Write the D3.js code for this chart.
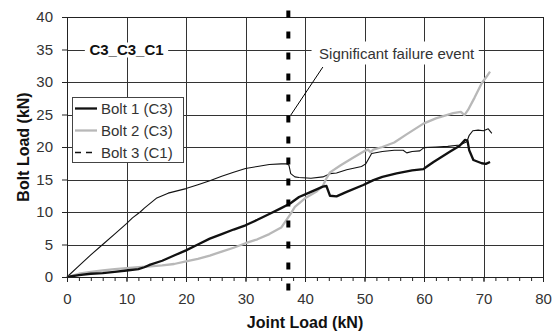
<!DOCTYPE html>
<html>
<head>
<meta charset="utf-8">
<script src="https://cdn.jsdelivr.net/npm/d3@7"></script>
<style>
  html, body { margin: 0; padding: 0; background: #fff; }
  svg { display: block; font-family: "Liberation Sans", Arial, sans-serif; }
</style>
</head>
<body>
<svg id="chart" width="554" height="335"></svg>
<script>
// Joint load (kN) vs bolt load (kN), specimen C3_C3_C1
const bolt1X = [0, 2, 4, 6, 8, 10, 12, 13, 14, 16, 18, 20, 22, 24, 26, 28, 30, 32, 34, 36, 37.5, 39, 41, 43, 43.6, 44.2, 45.3, 47, 49.8, 51.5, 53, 55.4, 58, 59.9, 60.5, 61.6, 63, 64.4, 66, 66.9, 67.3, 67.6, 68.3, 69.7, 70.4, 71.1];
const bolt1Y = [0, 0.3, 0.5, 0.6, 0.8, 1.0, 1.2, 1.5, 1.9, 2.5, 3.3, 4.1, 5.0, 5.9, 6.6, 7.3, 7.95, 8.8, 9.7, 10.6, 11.3, 12.3, 13.1, 13.9, 14.0, 12.5, 12.4, 13.1, 14.15, 14.9, 15.4, 15.95, 16.4, 16.6, 17.0, 17.7, 18.5, 19.3, 20.2, 21.1, 21.0, 19.5, 18.0, 17.5, 17.4, 17.7];

const bolt2X = [0, 2, 4, 6, 8, 10, 12, 14, 16, 18, 20, 22, 24, 26, 28, 30, 32, 34, 36, 37.5, 38.3, 40, 42, 43, 43.5, 44.2, 46, 48, 50, 50.6, 51, 51.5, 53, 55, 57, 59.9, 62, 64.9, 66.2, 66.8, 67.4, 68.5, 69.7, 70.5, 71.1];
const bolt2Y = [0, 0.5, 0.8, 1.0, 1.2, 1.35, 1.5, 1.65, 1.8, 2.0, 2.4, 2.8, 3.3, 3.9, 4.5, 5.2, 5.8, 6.6, 7.6, 9.6, 10.8, 12.1, 13.2, 14.0, 15.0, 16.1, 17.2, 18.3, 19.4, 19.6, 19.2, 19.6, 20.0, 20.7, 21.9, 23.6, 24.4, 25.2, 25.4, 24.9, 25.7, 27.6, 29.8, 30.8, 31.6];

const bolt3X = [0, 2, 4, 6, 8, 10, 11, 12.3, 13, 15, 17, 20, 22, 24, 26, 28, 30, 32, 34, 36, 37.0, 37.3, 37.6, 38.3, 39, 41, 43, 44.2, 45.3, 47, 49.5, 50.2, 51.2, 53, 55, 56.5, 57.1, 58, 59.3, 60, 62, 64, 66, 67.2, 67.6, 68.2, 69.1, 70, 70.8, 71.4];
const bolt3Y = [0, 1.7, 3.4, 5.0, 6.6, 8.2, 9.1, 10.0, 10.6, 12.1, 12.9, 13.6, 14.2, 14.8, 15.5, 16.1, 16.7, 17.0, 17.3, 17.4, 17.4, 17.2, 15.9, 15.4, 15.3, 15.2, 15.4, 15.9, 16.0, 16.5, 17.0, 17.4, 19.0, 19.3, 19.5, 19.5, 19.1, 19.3, 19.4, 19.9, 20.0, 20.1, 20.3, 20.8, 21.8, 22.5, 22.6, 22.5, 22.8, 22.1];

const seriesNames = ["Bolt 1 (C3)", "Bolt 2 (C3)", "Bolt 3 (C1)"];
const xTicks = [0, 10, 20, 30, 40, 50, 60, 70, 80];
const xMinorTicks = d3.range(0, 81, 2);
const yTicks = [0, 5, 10, 15, 20, 25, 30, 35, 40];

const failureLoad = 37.2;      // joint load at the significant failure event
const specimenLabel = "C3_C3_C1";
const failureLabel = "Significant failure event";

const svg = d3.select("#chart");
const W = 554, H = 335;
const margin = { top: 17, right: 11, bottom: 58, left: 67 };
const x = d3.scaleLinear().domain([0, 80]).range([margin.left, W - margin.right]);
const y = d3.scaleLinear().domain([0, 40]).range([H - margin.bottom, margin.top]);

const ink = "#222";

// grid
const grid = svg.append("g").attr("stroke", "#333").attr("stroke-width", 1);
grid.selectAll("line.h").data(yTicks).join("line")
  .attr("x1", x(0)).attr("x2", x(80))
  .attr("y1", d => Math.round(y(d)) + 0.5).attr("y2", d => Math.round(y(d)) + 0.5);
grid.selectAll("line.v").data(xTicks).join("line")
  .attr("y1", y(0)).attr("y2", y(40))
  .attr("x1", d => Math.round(x(d)) + 0.5).attr("x2", d => Math.round(x(d)) + 0.5);

// white boxes behind in-plot labels
svg.append("rect").attr("x", x(3)).attr("y", y(35) - 7).attr("width", x(17) - x(3)).attr("height", 15).attr("fill", "#fff");
svg.append("rect").attr("x", x(41.1)).attr("y", y(35) - 8).attr("width", x(69.2) - x(41.1)).attr("height", 23).attr("fill", "#fff");

// series
const line = d3.line().x(d => x(d[0])).y(d => y(d[1])).curve(d3.curveLinear);
const zip = (a, b) => a.map((v, i) => [v, b[i]]);

svg.append("path").datum(zip(bolt3X, bolt3Y)).attr("d", line)
  .attr("fill", "none").attr("stroke", "#111").attr("stroke-width", 1.1).attr("stroke-linejoin", "round");
svg.append("path").datum(zip(bolt2X, bolt2Y)).attr("d", line)
  .attr("fill", "none").attr("stroke", "#b8b8b8").attr("stroke-width", 2.3).attr("stroke-linejoin", "round");
svg.append("path").datum(zip(bolt1X, bolt1Y)).attr("d", line)
  .attr("fill", "none").attr("stroke", "#111").attr("stroke-width", 2.3).attr("stroke-linejoin", "round");

// axes
const xAxis = svg.append("g").attr("transform", `translate(0,${y(0)})`)
  .call(d3.axisBottom(x).tickValues(xTicks).tickSize(5).tickPadding(11).tickFormat(d3.format("d")));
const xMinor = svg.append("g").attr("transform", `translate(0,${y(0)})`)
  .call(d3.axisBottom(x).tickValues(xMinorTicks).tickSize(4).tickFormat(""));
const yAxis = svg.append("g").attr("transform", `translate(${x(0)},0)`)
  .call(d3.axisLeft(y).tickValues(yTicks).tickSize(5).tickPadding(9).tickFormat(d3.format("d")));
[xAxis, xMinor, yAxis].forEach(g => {
  g.select(".domain").remove();
  g.selectAll("line").attr("stroke", ink);
  g.selectAll("text").attr("fill", "#333").style("font-size", "15px").style("font-family", "Liberation Sans, Arial, sans-serif");
});

// plot frame
svg.append("rect").attr("x", x(0) + 0.5).attr("y", y(40) + 0.5)
  .attr("width", x(80) - x(0)).attr("height", y(0) - y(40))
  .attr("fill", "none").attr("stroke", ink).attr("stroke-width", 1);

// failure event marker
svg.append("line")
  .attr("x1", x(failureLoad)).attr("x2", x(failureLoad))
  .attr("y1", y(41)).attr("y2", y(-2.2))
  .attr("stroke", "#000").attr("stroke-width", 4).attr("stroke-dasharray", "7,14");
svg.append("line")
  .attr("x1", x(43.0)).attr("y1", y(32.3)).attr("x2", x(37.6)).attr("y2", y(24.9))
  .attr("stroke", "#000").attr("stroke-width", 1);

svg.append("text").attr("x", x(55.4)).attr("y", y(35) + 9)
  .attr("text-anchor", "middle").attr("fill", "#333").style("font-size", "15px")
  .text(failureLabel);

svg.append("text").attr("x", x(10)).attr("y", y(35) + 5.5)
  .attr("text-anchor", "middle").attr("fill", "#111").style("font-size", "15px").style("font-weight", "bold")
  .text(specimenLabel);

// legend
const lg = svg.append("g");
lg.append("rect").attr("x", 72.5).attr("y", 97.5).attr("width", 111).attr("height", 65)
  .attr("fill", "#fff").attr("stroke", "#444").attr("stroke-width", 1);
const legendStyles = [
  { stroke: "#111", width: 2.3, dash: null },
  { stroke: "#b8b8b8", width: 2.3, dash: null },
  { stroke: "#111", width: 1.5, dash: "6,5" }
];
seriesNames.forEach((name, i) => {
  const cy = 108.5 + i * 22;
  lg.append("line").attr("x1", 75).attr("x2", 97).attr("y1", cy).attr("y2", cy)
    .attr("stroke", legendStyles[i].stroke).attr("stroke-width", legendStyles[i].width)
    .attr("stroke-dasharray", legendStyles[i].dash);
  lg.append("text").attr("x", 101).attr("y", cy).attr("dy", "0.35em")
    .attr("fill", "#333").style("font-size", "15px").text(name);
});

// axis titles
svg.append("text").attr("x", (x(0) + x(80)) / 2).attr("y", 328)
  .attr("text-anchor", "middle").attr("fill", "#111")
  .style("font-size", "16px").style("font-weight", "bold").text("Joint Load (kN)");
svg.append("text").attr("transform", `translate(29,${(y(0) + y(40)) / 2}) rotate(-90)`)
  .attr("text-anchor", "middle").attr("fill", "#111")
  .style("font-size", "16px").style("font-weight", "bold").text("Bolt Load (kN)");
</script>
</body>
</html>
